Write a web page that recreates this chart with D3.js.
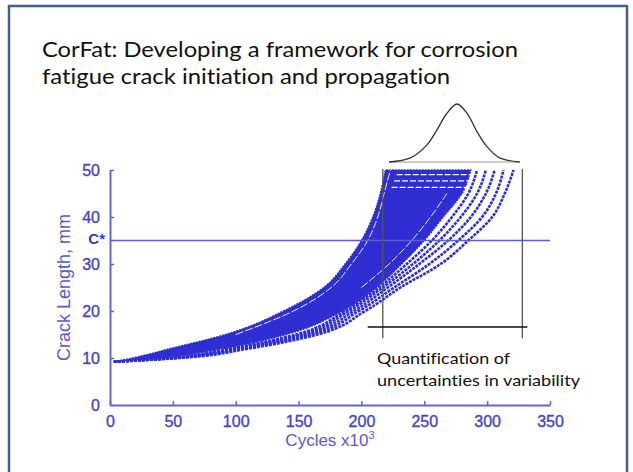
<!DOCTYPE html>
<html>
<head>
<meta charset="utf-8">
<script src="https://cdn.jsdelivr.net/npm/d3@7"></script>
<style>
  body { margin: 0; background: #fff; }
  svg { display: block; }
  .slide-text { font-variant-ligatures: none; font-feature-settings: "liga" 0; }
</style>
</head>
<body>
<svg id="chart" width="633" height="472"></svg>
<script>
// crack length levels (mm) at which each simulated curve is read off
const lengthLevels = [9.2, 10, 12, 15, 20, 25, 30, 35, 40, 45, 50];

// cycles (x10^3) at each level
const fastEdge = [3, 18, 48, 92, 138, 170, 187, 200, 209, 215, 219];
const denseEdge = [3, 40, 90, 140, 185, 212, 232, 250, 265, 280, 287];
const slowCurves = [
  [3, 46, 95, 148, 187, 214, 236, 256, 272, 285, 292],
  [3, 48, 98, 152, 190, 217, 241, 262, 279, 292, 299],
  [3, 50, 102, 156, 194, 221, 246, 269, 287, 299, 306],
  [3, 52, 105, 160, 198, 226, 254, 277, 296, 307, 313],
  [3, 55, 110, 165, 203, 231, 263, 285, 304, 314, 321]
];
// thin empty gaps inside the dense band
const gapCurves = [
  [null, null, null, 100, 146, 176, 192, 205, 213, 218, 223],
  [null, null, null, null, null, 200, 222, 240, 255, 268, null]
];
// dotted rows near the top of the band: [length, from cycles, to cycles]
const topRows = [[46.3, 224, 284], [47.7, 226, 286], [49.0, 228, 288]];

const xTicks = [0, 50, 100, 150, 200, 250, 300, 350];
const yTicks = [0, 10, 20, 30, 40, 50];
const criticalLength = 35;

// schematic distribution of cycles to reach 50 mm
const bellCycles = [222, 239, 252, 260, 268, 276, 284, 292, 300, 310, 326];
const bellHeight = [0, 0.07, 0.29, 0.55, 0.84, 1, 0.84, 0.52, 0.26, 0.07, 0];

const bracketCycles = [217, 328];

const blue = "#2e2ed2";
const axisBlue = "#6565d6";
const labelBlue = "#4444c6";

const svg = d3.select("#chart");

// slide frame
svg.append("path")
  .attr("d", "M9,472 L9,6 L627,6 L627,472")
  .attr("fill", "none")
  .attr("stroke", "#44618a")
  .attr("stroke-width", 2.5);

// title
const title = svg.append("g")
  .attr("class", "slide-text")
  .attr("font-family", "Lato, 'Open Sans', sans-serif")
  .attr("font-size", 22)
  .attr("fill", "#111");
title.append("text").attr("x", 42).attr("y", 57)
  .attr("textLength", 476).attr("lengthAdjust", "spacingAndGlyphs")
  .text("CorFat: Developing a framework for corrosion");
title.append("text").attr("x", 42).attr("y", 84)
  .attr("textLength", 408).attr("lengthAdjust", "spacingAndGlyphs")
  .text("fatigue crack initiation and propagation");

const x = d3.scaleLinear().domain([0, 350]).range([110, 550]);
const y = d3.scaleLinear().domain([0, 50]).range([405, 170]);
const bellY = d3.scaleLinear().domain([0, 1]).range([162, 104]);

// dense band of simulated crack growth curves
const band = d3.area()
  .curve(d3.curveMonotoneY)
  .y((d, i) => y(lengthLevels[i]))
  .x0(d => x(d[0]))
  .x1(d => x(d[1]));

svg.append("path")
  .datum(fastEdge.map((c, i) => [c, denseEdge[i]]))
  .attr("d", band)
  .attr("fill", blue)
  .attr("stroke", blue)
  .attr("stroke-width", 1.5)
  .attr("stroke-dasharray", "2,1");

const curveLine = d3.line()
  .curve(d3.curveMonotoneY)
  .defined(d => d != null)
  .x(d => x(d))
  .y((d, i) => y(lengthLevels[i]));

svg.selectAll(".slow")
  .data(slowCurves)
  .enter()
  .append("path")
  .attr("class", "slow")
  .attr("d", curveLine)
  .attr("fill", "none")
  .attr("stroke", blue)
  .attr("stroke-width", 2.6)
  .attr("stroke-dasharray", "3,1");

svg.selectAll(".gap")
  .data(gapCurves)
  .enter()
  .append("path")
  .attr("class", "gap")
  .attr("d", curveLine)
  .attr("fill", "none")
  .attr("stroke", "#fff")
  .attr("stroke-width", 0.9)
  .attr("stroke-dasharray", "8,2");

svg.selectAll(".row")
  .data(topRows)
  .enter()
  .append("line")
  .attr("class", "row")
  .attr("x1", d => x(d[1]))
  .attr("x2", d => x(d[2]))
  .attr("y1", d => y(d[0]))
  .attr("y2", d => y(d[0]))
  .attr("stroke", "#fff")
  .attr("stroke-width", 1.2)
  .attr("stroke-dasharray", "6,2");

// axes
const axisFont = "'Liberation Sans', Arial, sans-serif";

const xAxis = svg.append("g")
  .attr("transform", `translate(0,${y(0)})`)
  .call(d3.axisBottom(x).tickValues(xTicks).tickSize(-4).tickSizeOuter(0).tickPadding(11));
const yAxis = svg.append("g")
  .attr("transform", `translate(${x(0)},0)`)
  .call(d3.axisLeft(y).tickValues(yTicks).tickSize(-4).tickSizeOuter(0).tickPadding(10));

[xAxis, yAxis].forEach(g => {
  g.select(".domain").attr("stroke", axisBlue).attr("stroke-width", 2);
  g.selectAll(".tick line").attr("stroke", axisBlue).attr("stroke-width", 1.5);
  g.selectAll(".tick text")
    .attr("fill", labelBlue)
    .attr("stroke", labelBlue)
    .attr("stroke-width", 0.35)
    .attr("font-family", axisFont)
    .attr("font-size", 16);
});

svg.append("text")
  .attr("x", (x(0) + x(350)) / 2)
  .attr("y", 446)
  .attr("text-anchor", "middle")
  .attr("font-family", axisFont)
  .attr("font-size", 17)
  .attr("fill", "#5a5ad2")
  .text("Cycles x10")
  .append("tspan")
  .attr("font-size", 11)
  .attr("dy", -7)
  .text("3");

svg.append("text")
  .attr("transform", `translate(70,${(y(0) + y(50)) / 2}) rotate(-90)`)
  .attr("text-anchor", "middle")
  .attr("font-family", axisFont)
  .attr("font-size", 18)
  .attr("fill", "#5a5ad2")
  .text("Crack Length, mm");

// critical crack length
svg.append("line")
  .attr("x1", x(0))
  .attr("x2", x(350))
  .attr("y1", y(criticalLength))
  .attr("y2", y(criticalLength))
  .attr("stroke", "#5c5cdc")
  .attr("stroke-width", 1.5);

svg.append("text")
  .attr("x", 105)
  .attr("y", y(criticalLength) + 3)
  .attr("text-anchor", "end")
  .attr("font-family", axisFont)
  .attr("font-weight", "bold")
  .attr("font-size", 15)
  .attr("fill", "#3b3bc4")
  .text("C*");

// bracket around end-of-life spread
bracketCycles.forEach(c => {
  svg.append("line")
    .attr("x1", x(c)).attr("x2", x(c))
    .attr("y1", y(50.2)).attr("y2", y(14.2))
    .attr("stroke", "#555")
    .attr("stroke-width", 1.3);
});
svg.append("line")
  .attr("x1", x(205)).attr("x2", x(332))
  .attr("y1", y(16.6)).attr("y2", y(16.6))
  .attr("stroke", "#111")
  .attr("stroke-width", 1.3);

// distribution sketch
svg.append("line")
  .attr("x1", x(bellCycles[0])).attr("x2", x(bellCycles[bellCycles.length - 1]))
  .attr("y1", bellY(0)).attr("y2", bellY(0))
  .attr("stroke", "#999")
  .attr("stroke-width", 1);

svg.append("path")
  .datum(bellCycles.map((c, i) => [c, bellHeight[i]]))
  .attr("d", d3.line().curve(d3.curveCatmullRom).x(d => x(d[0])).y(d => bellY(d[1])))
  .attr("fill", "none")
  .attr("stroke", "#333")
  .attr("stroke-width", 1.3);

// annotation
const note = svg.append("g")
  .attr("class", "slide-text")
  .attr("font-family", "Lato, 'Open Sans', sans-serif")
  .attr("font-size", 16)
  .attr("fill", "#111");
note.append("text").attr("x", 377).attr("y", 364)
  .attr("textLength", 133).attr("lengthAdjust", "spacingAndGlyphs")
  .text("Quantification of");
note.append("text").attr("x", 377).attr("y", 386)
  .attr("textLength", 203).attr("lengthAdjust", "spacingAndGlyphs")
  .text("uncertainties in variability");
</script>
</body>
</html>
